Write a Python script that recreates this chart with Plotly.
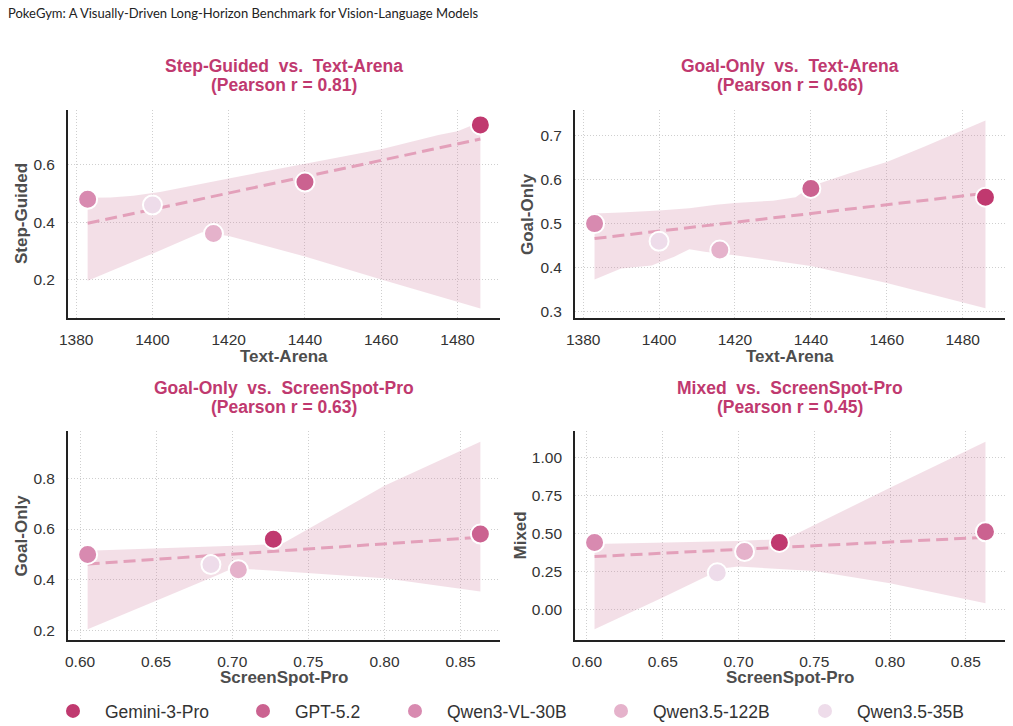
import numpy as np
import plotly.graph_objects as go

# ---------------- data ----------------
models = ["Gemini-3-Pro", "GPT-5.2", "Qwen3-VL-30B", "Qwen3.5-122B", "Qwen3.5-35B"]
colors = ["#C0396F", "#CB6290", "#D88AB0", "#E5B2CB", "#EEDCEA"]

text_arena = [1486, 1440, 1383, 1416, 1400]
screenspot_pro = [0.727, 0.863, 0.605, 0.704, 0.686]
step_guided = [0.74, 0.54, 0.48, 0.36, 0.46]
goal_only = [0.56, 0.58, 0.50, 0.44, 0.46]
mixed = [0.44, 0.51, 0.44, 0.38, 0.24]

# confidence bands
band1_up_x = [1383, 1389, 1395, 1402, 1420, 1440, 1460, 1475, 1480, 1486]
band1_up_y = [0.485, 0.486, 0.492, 0.505, 0.553, 0.605, 0.655, 0.705, 0.718, 0.750]
band1_lo_x = [1383, 1400, 1413, 1420, 1440, 1460, 1486]
band1_lo_y = [0.195, 0.290, 0.365, 0.352, 0.280, 0.200, 0.098]

band2_up_x = [1383, 1390, 1400, 1408, 1415, 1420, 1430, 1436, 1440, 1450, 1460, 1470, 1486]
band2_up_y = [0.523, 0.525, 0.530, 0.535, 0.543, 0.547, 0.552, 0.560, 0.585, 0.614, 0.640, 0.675, 0.734]
band2_lo_x = [1383, 1390, 1398, 1404, 1408, 1412, 1420, 1440, 1460, 1486]
band2_lo_y = [0.373, 0.398, 0.405, 0.425, 0.442, 0.436, 0.428, 0.404, 0.365, 0.308]

band3_up_x = [0.605, 0.65, 0.70, 0.727, 0.734, 0.80, 0.863]
band3_up_y = [0.514, 0.524, 0.533, 0.540, 0.546, 0.770, 0.944]
band3_lo_x = [0.605, 0.65, 0.69, 0.70, 0.72, 0.75, 0.80, 0.863]
band3_lo_y = [0.205, 0.318, 0.418, 0.445, 0.439, 0.428, 0.406, 0.354]

band4_up_x = [0.605, 0.65, 0.70, 0.727, 0.733, 0.80, 0.863]
band4_up_y = [0.430, 0.439, 0.450, 0.461, 0.470, 0.800, 1.103]
band4_lo_x = [0.605, 0.65, 0.69, 0.70, 0.75, 0.80, 0.863]
band4_lo_y = [-0.132, 0.077, 0.270, 0.281, 0.252, 0.171, 0.039]

panels = [
    dict(x=text_arena, y=step_guided, xl="Text-Arena", yl="Step-Guided",
         bux=band1_up_x, buy=band1_up_y, blx=band1_lo_x, bly=band1_lo_y),
    dict(x=text_arena, y=goal_only, xl="Text-Arena", yl="Goal-Only",
         bux=band2_up_x, buy=band2_up_y, blx=band2_lo_x, bly=band2_lo_y),
    dict(x=screenspot_pro, y=goal_only, xl="ScreenSpot-Pro", yl="Goal-Only",
         bux=band3_up_x, buy=band3_up_y, blx=band3_lo_x, bly=band3_lo_y),
    dict(x=screenspot_pro, y=mixed, xl="ScreenSpot-Pro", yl="Mixed",
         bux=band4_up_x, buy=band4_up_y, blx=band4_lo_x, bly=band4_lo_y),
]

# ---------------- layout geometry (pixels) ----------------
W, H = 1013, 726
col_px = [(68, 500), (575, 1005)]
row_px = [(110, 318), (431, 640)]
ytitle_px = [21, 527, 21, 520]
ranges = [
    ([1377.85, 1491.15], [0.065, 0.792], 20, 0.2, "d", ".1f"),
    ([1377.85, 1491.15], [0.2857, 0.758], 20, 0.1, "d", ".1f"),
    ([0.5921, 0.8759], [0.163, 0.986], 0.05, 0.2, ".2f", ".1f"),
    ([0.5921, 0.8759], [-0.202, 1.173], 0.05, 0.25, ".2f", ".2f"),
]
tick0s = [(1380, 0.2), (1380, 0.3), (0.6, 0.2), (0.6, 0.0)]

TITLE_COLOR = "#C0396F"
FONT = "Liberation Sans, Arial, sans-serif"

fig = go.Figure()
annotations = []

for i, p in enumerate(panels):
    r, c = divmod(i, 2)
    sfx = "" if i == 0 else str(i + 1)
    xa, ya = "x" + sfx, "y" + sfx

    # band
    bx = list(p["bux"]) + list(p["blx"])[::-1]
    by = list(p["buy"]) + list(p["bly"])[::-1]
    fig.add_trace(go.Scatter(x=bx, y=by, xaxis=xa, yaxis=ya, mode="lines",
                             fill="toself", fillcolor="rgba(207,127,159,0.25)",
                             line=dict(width=0), hoverinfo="skip", showlegend=False))
    # regression line
    xs = np.array(p["x"], dtype=float)
    ys = np.array(p["y"], dtype=float)
    k, b0 = np.polyfit(xs, ys, 1)
    lx = np.array([xs.min(), xs.max()])
    fig.add_trace(go.Scatter(x=lx, y=k * lx + b0, xaxis=xa, yaxis=ya, mode="lines",
                             line=dict(color="#E3A0BA", width=3, dash="12px,6px"),
                             hoverinfo="skip", showlegend=False))
    # points
    for j, m in enumerate(models):
        fig.add_trace(go.Scatter(
            x=[p["x"][j]], y=[p["y"][j]], xaxis=xa, yaxis=ya, mode="markers",
            name=m, legendgroup=m, showlegend=(i == 0),
            legend="legend" if j == 0 else "legend%d" % (j + 1),
            marker=dict(size=19, color=colors[j], line=dict(color="white", width=2))))

    rr = np.corrcoef(xs, ys)[0, 1]
    x0, x1 = col_px[c]
    y0, y1 = row_px[r]
    xr, yr, dx, dy, xf, yf = ranges[i]
    t0x, t0y = tick0s[i]
    axcommon = dict(showline=True, linecolor="#222222", linewidth=1.8, mirror=False,
                    showgrid=True, gridcolor="#CFCFCF", griddash="1px,2px", gridwidth=1,
                    zeroline=False, ticks="", automargin=False,
                    tickfont=dict(family=FONT, size=15.5, color="#333333"))
    fig.layout["xaxis" + sfx] = dict(domain=[x0 / W, x1 / W], anchor=ya, range=xr,
                                     tick0=t0x, dtick=dx, tickformat=xf,
                                     ticklabelstandoff=6, **axcommon)
    fig.layout["yaxis" + sfx] = dict(domain=[1 - y1 / H, 1 - y0 / H], anchor=xa, range=yr,
                                     tick0=t0y, dtick=dy, tickformat=yf,
                                     ticklabelstandoff=8, **axcommon)

    cx = (x0 + x1) / 2 / W
    ty1 = 66 if r == 0 else 387.5
    annotations.append(dict(text="<b>%s  vs.  %s</b>" % (p["yl"], p["xl"]), x=cx, y=1 - ty1 / H,
                            xref="paper", yref="paper", showarrow=False,
                            xanchor="center", yanchor="middle",
                            font=dict(family=FONT, size=17.5, color=TITLE_COLOR)))
    annotations.append(dict(text="<b>(Pearson r = %.2f)</b>" % rr, x=cx, y=1 - (ty1 + 19) / H,
                            xref="paper", yref="paper", showarrow=False,
                            xanchor="center", yanchor="middle",
                            font=dict(family=FONT, size=17.5, color=TITLE_COLOR)))
    # axis titles
    xt_y = 356 if r == 0 else 677
    annotations.append(dict(text="<b>%s</b>" % p["xl"], x=cx, y=1 - xt_y / H,
                            xref="paper", yref="paper", showarrow=False,
                            xanchor="center", yanchor="middle",
                            font=dict(family=FONT, size=17, color="#4D4D4D")))
    annotations.append(dict(text="<b>%s</b>" % p["yl"], x=ytitle_px[i] / W, y=1 - (y0 + y1) / 2 / H,
                            xref="paper", yref="paper", showarrow=False, textangle=-90,
                            xanchor="center", yanchor="middle",
                            font=dict(family=FONT, size=17, color="#4D4D4D")))

annotations.append(dict(text="PokeGym: A Visually-Driven Long-Horizon Benchmark for Vision-Language Models",
                        x=6 / W, y=1 - 12.5 / H, xref="paper", yref="paper", showarrow=False,
                        xanchor="left", yanchor="middle",
                        font=dict(family="Lato, Open Sans, sans-serif", size=13, color="#222222")))

# legends, one per model, positioned like the reference
leg_marker_px = [73, 263, 415, 621, 825]
legend_layout = {}
for j, mx in enumerate(leg_marker_px):
    key = "legend" if j == 0 else "legend%d" % (j + 1)
    legend_layout[key] = dict(x=(mx - 32) / W, xanchor="left", y=1 - 711 / H, yanchor="middle",
                              orientation="h", itemwidth=54, bgcolor="rgba(0,0,0,0)",
                              font=dict(family=FONT, size=17.5, color="#333333"))

fig.update_layout(width=W, height=H, margin=dict(l=0, r=0, t=0, b=0, autoexpand=False),
                  paper_bgcolor="white", plot_bgcolor="white",
                  annotations=annotations, **legend_layout)

fig.write_html("out.html")
